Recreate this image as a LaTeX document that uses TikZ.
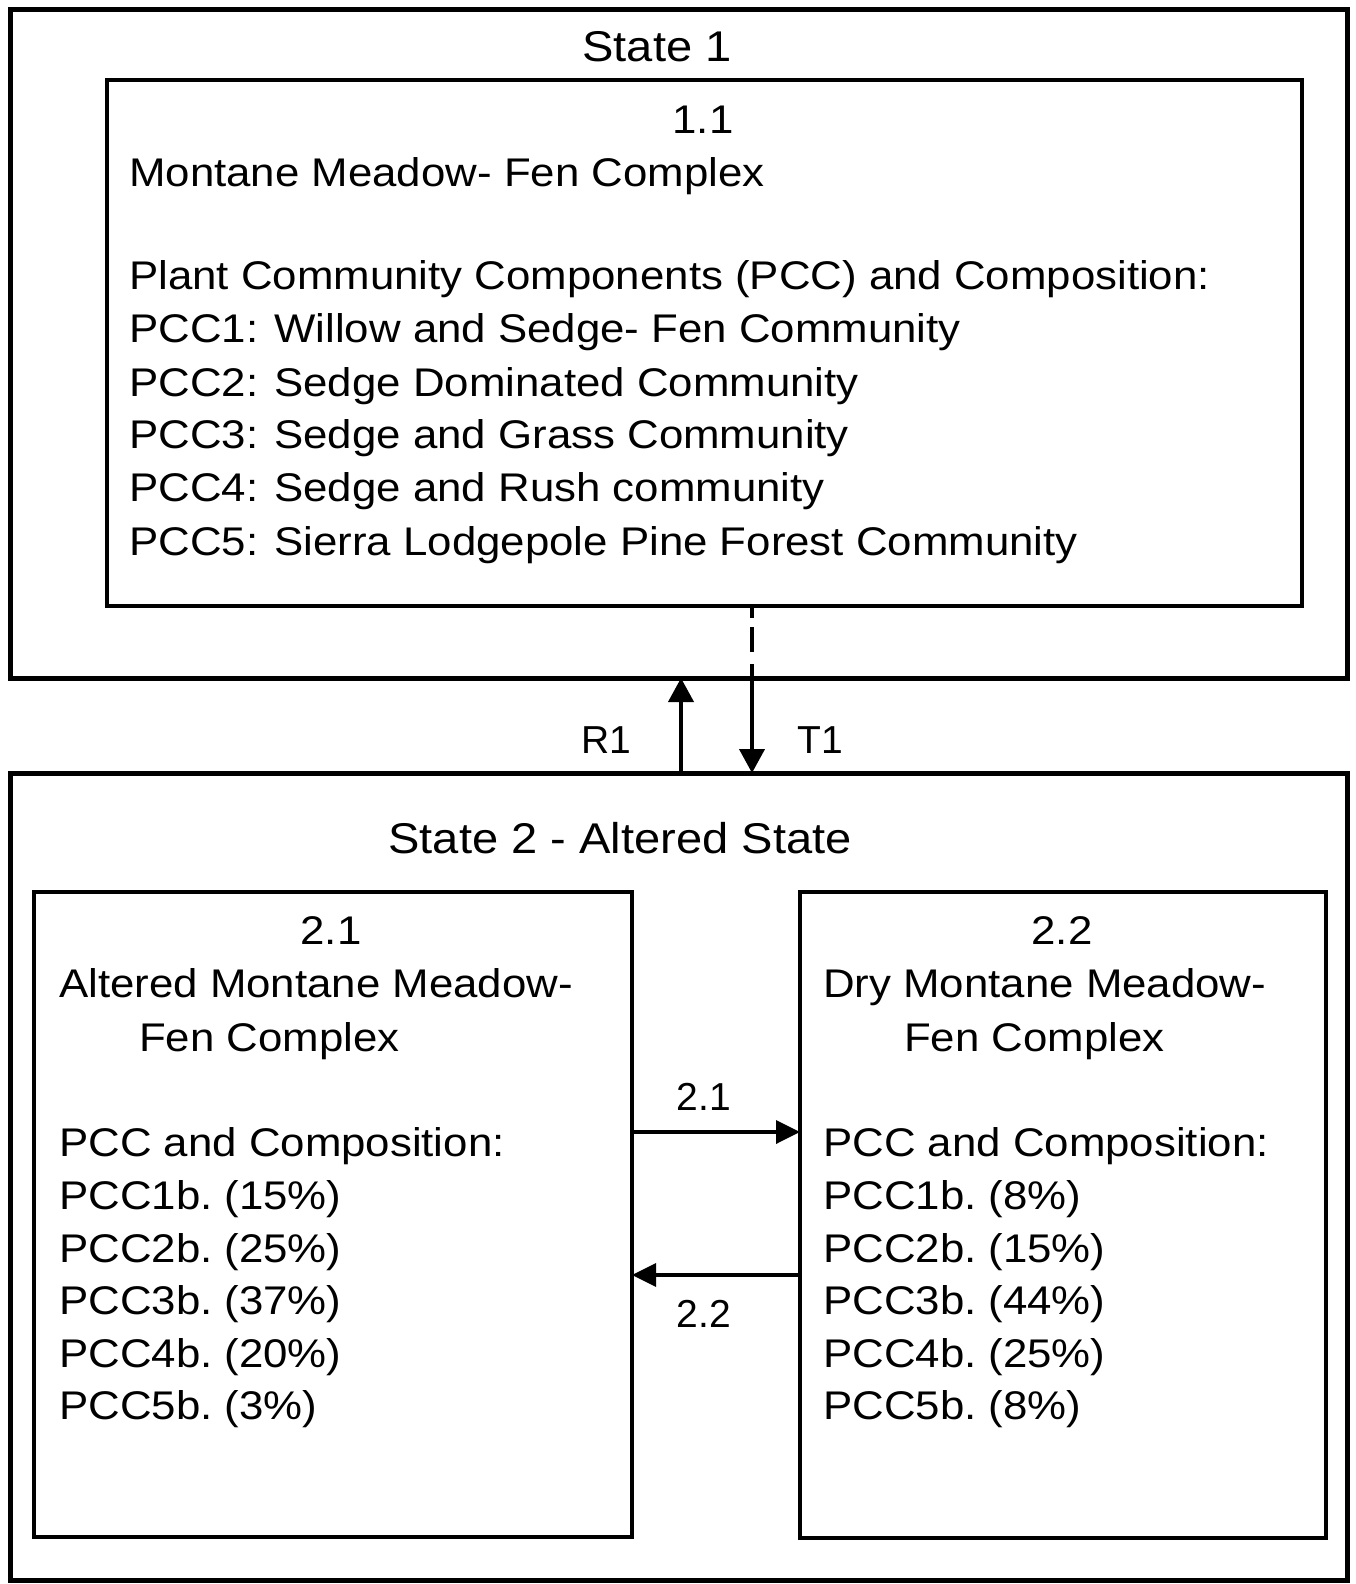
\documentclass[tikz,border=0pt]{standalone}
\usepackage{fontspec}
\setmainfont{Liberation Sans}
\newfontfamily\widefont[FakeStretch=1.095]{Liberation Sans}
\usetikzlibrary{arrows.meta}
\begin{document}
\sfcode`\.=1000
\begin{tikzpicture}[x=1pt,y=-1pt,
  outerbox/.style={draw, line width=5pt, inner sep=0pt, outer sep=0pt},
  innerbox/.style={draw, line width=3.2pt, inner sep=0pt, outer sep=0pt},
  txt/.style={anchor=base west, inner sep=0pt, font=\widefont\fontsize{40}{48}\selectfont},
  ctxt/.style={anchor=base, inner sep=0pt, font=\widefont\fontsize{40}{48}\selectfont},
  ttl/.style={anchor=base, inner sep=0pt, font=\widefont\fontsize{43}{52}\selectfont},
  lbl/.style={anchor=base, inner sep=0pt, font=\fontsize{39}{47}\selectfont},
  bigarrow/.style={line width=4pt, -{Triangle[length=24pt,width=25pt]}},
  midarrow/.style={line width=3.5pt, -{Triangle[length=24pt,width=23pt]}}
]
\useasboundingbox (0,0) rectangle (1355,1584);
% boxes
\node[outerbox, minimum width=1337pt, minimum height=668pt] (state1) at (678.5,344) {};
\node[innerbox, minimum width=1195pt, minimum height=526pt] (box11) at (704.5,343) {};
\node[outerbox, minimum width=1337pt, minimum height=807pt] (state2) at (678.5,1176.5) {};
\node[innerbox, minimum width=598pt, minimum height=645pt] (box21) at (333,1214.5) {};
\node[innerbox, minimum width=526pt, minimum height=646pt] (box22) at (1063,1215) {};
% state 1 texts
\node[ttl] (s1title) at (657,62) {State 1};
\node[ctxt] (t11) at (703,133) {1.1};
\node[txt] (t11a) at (129,186) {Montane Meadow- Fen Complex};
\node[txt] (t11b) at (129,289) {Plant Community Components (PCC) and Composition:};
\node[txt] (t11c) at (129,342) {PCC1: Willow and Sedge- Fen Community};
\node[txt] (t11d) at (129,396) {PCC2: Sedge Dominated Community};
\node[txt] (t11e) at (129,448) {PCC3: Sedge and Grass Community};
\node[txt] (t11f) at (129,501) {PCC4: Sedge and Rush community};
\node[txt] (t11g) at (129,555) {PCC5: Sierra Lodgepole Pine Forest Community};
% state 2 texts
\node[ttl] (s2title) at (620,853) {State 2 - Altered State};
\node[ctxt] (t21) at (331,944) {2.1};
\node[txt] (t21a) at (59,997) {Altered Montane Meadow-};
\node[txt] (t21b) at (139,1051) {Fen Complex};
\node[txt] (t21c) at (59,1156) {PCC and Composition:};
\node[txt] (t21d) at (59,1209) {PCC1b. (15\%)};
\node[txt] (t21e) at (59,1262) {PCC2b. (25\%)};
\node[txt] (t21f) at (59,1314) {PCC3b. (37\%)};
\node[txt] (t21g) at (59,1367) {PCC4b. (20\%)};
\node[txt] (t21h) at (59,1419) {PCC5b. (3\%)};
\node[ctxt] (t22) at (1062,944) {2.2};
\node[txt] (t22a) at (823,997) {Dry Montane Meadow-};
\node[txt] (t22b) at (904,1051) {Fen Complex};
\node[txt] (t22c) at (823,1156) {PCC and Composition:};
\node[txt] (t22d) at (823,1209) {PCC1b. (8\%)};
\node[txt] (t22e) at (823,1262) {PCC2b. (15\%)};
\node[txt] (t22f) at (823,1314) {PCC3b. (44\%)};
\node[txt] (t22g) at (823,1367) {PCC4b. (25\%)};
\node[txt] (t22h) at (823,1419) {PCC5b. (8\%)};
% transitions between states
\coordinate (r1x) at (681,0);
\coordinate (t1x) at (752,0);
\draw[bigarrow] (r1x |- state2.north) -- (r1x |- state1.south);
\draw[line width=4pt, dash pattern=on 12pt off 9pt on 25pt off 12pt] (t1x |- box11.south) -- (t1x |- state1.south);
\draw[bigarrow] (t1x |- state1.south) -- (t1x |- state2.north);
\node[lbl] (r1) at (606,753) {R1};
\node[lbl] (t1) at (820,753) {T1};
% transitions within state 2
\coordinate (a21y) at (0,1132);
\coordinate (a22y) at (0,1275);
\draw[midarrow] (box21.east |- a21y) -- (box22.west |- a21y);
\draw[midarrow] (box22.west |- a22y) -- (box21.east |- a22y);
\node[lbl] (l21) at (704,1110) {2.1};
\node[lbl] (l22) at (704,1327) {2.2};
\end{tikzpicture}
\end{document}
